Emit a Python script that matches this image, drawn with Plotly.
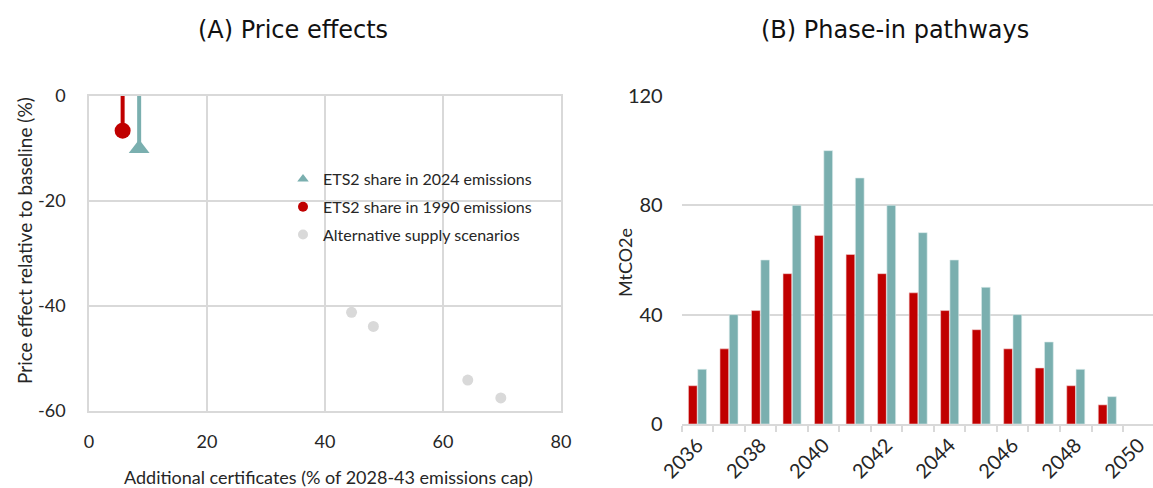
import plotly.graph_objects as go

# Panel A: price effects
ets_2024_x = [8.5]
ets_2024_y = [-10.0]
ets_1990_x = [5.7]
ets_1990_y = [-6.6]
alt_x = [44.5, 48.2, 64.2, 69.8]
alt_y = [-41.2, -43.9, -54.1, -57.5]
price_ticks = [0, -20, -40, -60]
price_labels = ["0", "-20", "-40", "-60"]
cert_ticks = [0, 20, 40, 60, 80]

# Panel B: phase-in pathways
years = [2036, 2037, 2038, 2039, 2040, 2041, 2042, 2043, 2044, 2045, 2046, 2047, 2048, 2049]
share_1990 = [14, 27.5, 41.5, 55, 69, 62, 55, 48, 41.5, 34.5, 27.5, 20.5, 14, 7]
share_2024 = [20, 40, 60, 80, 100, 90, 80, 70, 60, 50, 40, 30, 20, 10]
year_ticks = [2036, 2038, 2040, 2042, 2044, 2046, 2048, 2050]
mt_ticks = [0, 40, 80, 120]

RED = "#C00000"
TEAL = "#7AAFAF"
GREY = "#D9D9D9"
GRID = "#D9D9D9"
TXT = "#262626"
W, H = 1153, 488
FONT = "Lato"


def px(v, total):
    return v / total


fig = go.Figure()

# stems from zero to each share point
fig.add_trace(go.Scatter(x=[ets_1990_x[0], ets_1990_x[0]], y=[0, ets_1990_y[0]], mode="lines",
                         line=dict(color=RED, width=4), showlegend=False, hoverinfo="skip",
                         xaxis="x", yaxis="y"))
fig.add_trace(go.Scatter(x=[ets_2024_x[0], ets_2024_x[0]], y=[0, ets_2024_y[0]], mode="lines",
                         line=dict(color=TEAL, width=4), showlegend=False, hoverinfo="skip",
                         xaxis="x", yaxis="y"))
fig.add_trace(go.Scatter(x=ets_1990_x, y=ets_1990_y, mode="markers",
                         marker=dict(color=RED, size=16, symbol="circle"),
                         showlegend=False, xaxis="x", yaxis="y"))
fig.add_trace(go.Scatter(x=ets_2024_x, y=ets_2024_y, mode="markers",
                         marker=dict(color=TEAL, size=18, symbol="triangle-up"),
                         showlegend=False, xaxis="x", yaxis="y"))
fig.add_trace(go.Scatter(x=alt_x, y=alt_y, mode="markers",
                         marker=dict(color=GREY, size=11, symbol="circle"),
                         showlegend=False, xaxis="x", yaxis="y"))

# legend entries
for name, color, sym, grp in [
    ("ETS2 share in 2024 emissions", TEAL, "triangle-up", "a"),
    ("ETS2 share in 1990 emissions", RED, "circle", "b"),
    ("Alternative supply scenarios", GREY, "circle", "c"),
]:
    fig.add_trace(go.Scatter(x=[None], y=[None], mode="markers", name=name, legendgroup=grp,
                             marker=dict(color=color, size=10, symbol=sym),
                             xaxis="x", yaxis="y"))

# Panel B bars
fig.add_trace(go.Bar(x=years, y=share_1990, marker=dict(color=RED, line=dict(color="#F2D0D0", width=0.6)),
                     showlegend=False, xaxis="x2", yaxis="y2"))
fig.add_trace(go.Bar(x=years, y=share_2024, marker=dict(color=TEAL, line=dict(color="#DCEBEB", width=0.6)),
                     showlegend=False, xaxis="x2", yaxis="y2"))

tick_font = dict(family=FONT, size=18, color=TXT)
tick_font_b = dict(family=FONT, size=20, color=TXT)
title_font = dict(family=FONT, size=18, color=TXT)
panel_font = dict(family="DejaVu Sans", size=24, color="#111111")


def label(text, x, y, font, angle=0):
    return dict(text=text, x=px(x, W), y=1 - px(y, H), xref="paper", yref="paper",
                showarrow=False, font=font, xanchor="center", yanchor="middle", textangle=angle)


fig.update_layout(
    width=W, height=H,
    margin=dict(l=0, r=0, t=0, b=0, autoexpand=False),
    paper_bgcolor="white", plot_bgcolor="white",
    barmode="group", bargap=0.41, bargroupgap=0.06,
    showlegend=True,
    legend=dict(x=px(283, W), y=1 - px(162, H), xanchor="left", yanchor="top",
                font=dict(family=FONT, size=16, color=TXT), bgcolor="rgba(0,0,0,0)",
                tracegroupgap=4, itemwidth=30),
    xaxis=dict(domain=[px(89, W), px(561, W)], range=[0, 80], tickvals=cert_ticks,
               showgrid=True, gridcolor=GRID, gridwidth=1.5, zeroline=False,
               showline=True, linecolor=GRID, linewidth=1.5, mirror=True,
               tickfont=tick_font, ticks="", ticklabelstandoff=14, automargin=False,
               anchor="y"),
    yaxis=dict(domain=[1 - px(411, H), 1 - px(96, H)], range=[-60, 0],
               tickvals=price_ticks, ticktext=price_labels,
               showgrid=True, gridcolor=GRID, gridwidth=1.5, zeroline=False,
               showline=True, linecolor=GRID, linewidth=1.5, mirror=True,
               tickfont=tick_font, ticks="", ticklabelstandoff=18, automargin=False,
               anchor="x"),
    xaxis2=dict(domain=[px(681.7, W), 1.0], range=[2035.5, 2050.45],
                tickvals=year_ticks, ticklabeloverflow="allow",
                tickangle=-45, tickfont=tick_font_b, ticks="", automargin=False,
                showgrid=False, zeroline=False, showline=True, linecolor=GRID, linewidth=1.5,
                minor=dict(ticks="outside", tick0=2035.5, dtick=1, ticklen=6, tickcolor=GRID,
                           tickwidth=1.5, showgrid=False),
                anchor="y2"),
    yaxis2=dict(domain=[1 - px(424, H), 1 - px(96, H)], range=[0, 120], tickvals=mt_ticks,
                showgrid=True, gridcolor=GRID, gridwidth=1.5, zeroline=False, showline=False,
                tickfont=tick_font_b, ticks="", ticklabelstandoff=18, automargin=False,
                anchor="x2"),
    annotations=[
        label("(A) Price effects", 293, 30, panel_font),
        label("(B) Phase-in pathways", 895, 30, panel_font),
        label("Additional certificates (% of 2028-43 emissions cap)", 328, 477, title_font),
        label("Price effect relative to baseline (%)", 24, 241, dict(title_font, size=19), -90),
        label("MtCO2e", 625, 263, title_font, -90),
    ],
)

fig.write_html("out.html")
